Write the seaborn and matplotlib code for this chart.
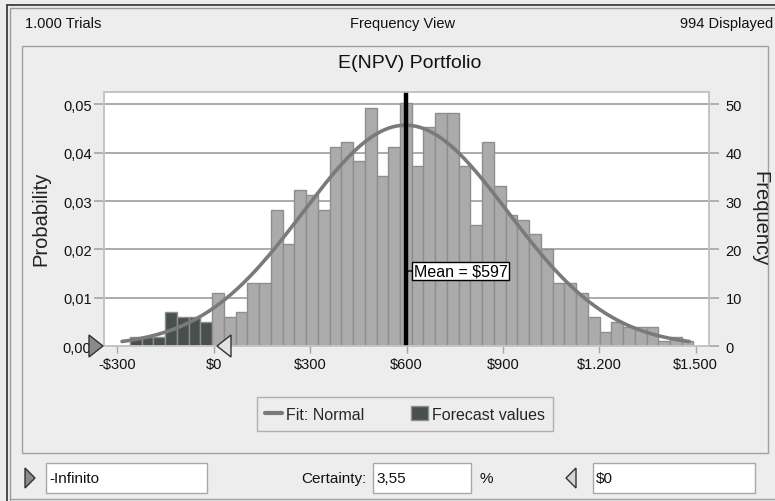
import numpy as np
import pandas as pd
import matplotlib
matplotlib.use("Agg")
import matplotlib.pyplot as plt
from matplotlib.patches import Rectangle, Polygon
from matplotlib.lines import Line2D
import seaborn as sns

# ---------------- data ----------------
bin_first_edge = -260.5
bin_last_edge = 1493.0
counts_below_zero = [2, 2, 2, 7, 6, 6, 5]
counts_rest = [11, 6, 7, 13, 13, 28, 21, 32, 31, 28, 41, 42, 38, 49, 35, 41, 50,
               37, 45, 48, 48, 37, 25, 42, 33, 27, 26, 23, 20, 13, 13, 11, 6, 3,
               5, 4, 4, 4, 1, 2, 1]
n_displayed = 994
fit_mean = 597
fit_std = 319
x_ticks = [-300, 0, 300, 600, 900, 1200, 1500]
x_tick_labels = ["-$300", "$0", "$300", "$600", "$900", "$1.200", "$1.500"]
y_ticks = [0.0, 0.01, 0.02, 0.03, 0.04, 0.05]
y_tick_labels = ["0,00", "0,01", "0,02", "0,03", "0,04", "0,05"]
freq_ticks = [0, 10, 20, 30, 40, 50]
title = "E(NPV) Portfolio"
header_left = "1.000 Trials"
header_mid = "Frequency View"
header_right = "994 Displayed"
mean_label = "Mean = $597"
certainty_value = "3,55"
lower_value = "-Infinito"
upper_value = "$0"

# ---------------- style ----------------
sns.set_theme(style="white")
plt.rcParams['font.family'] = ['Liberation Sans', 'DejaVu Sans']

BG = '#EDEDED'
DARK = '#48504F'
GREY = '#ABABAB'
EDGE = '#8E8E8E'
TXT = '#111111'
W, H = 775, 502

def fx(x):
    return x / W

def fy(y):
    return 1 - y / H

fig = plt.figure(figsize=(W / 100, H / 100), dpi=100)
fig.patch.set_facecolor(BG)

# outer frame & panel
fig.add_artist(Line2D([fx(7), fx(7)], [fy(6), 0], color='#303030', lw=1.2))
fig.add_artist(Line2D([fx(10), fx(10)], [fy(9), 0], color='#9A9A9A', lw=1.0))
fig.add_artist(Line2D([fx(7), 1], [fy(6), fy(6)], color='#303030', lw=1.2))
fig.add_artist(Line2D([fx(10), 1], [fy(9), fy(9)], color='#9A9A9A', lw=1.0))
fig.add_artist(Line2D([fx(10), 1], [fy(500), fy(500)], color='#A0A0A0', lw=1.0))
fig.add_artist(Rectangle((fx(22), fy(454)), fx(768) - fx(22), fy(47) - fy(454),
                         transform=fig.transFigure, facecolor=BG,
                         edgecolor='#A0A0A0', lw=1.0, zorder=0))

# header
hdr_kw = dict(fontsize=10.5, va='center', color=TXT)
fig.text(fx(25), fy(24), header_left, ha='left', **hdr_kw)
fig.text(fx(403), fy(24), header_mid, ha='center', **hdr_kw)
fig.text(fx(773), fy(24), header_right, ha='right', **hdr_kw)
fig.text(fx(410), fy(63), title, ha='center', va='center', fontsize=14,
         color=TXT)

# ---------------- main axes ----------------
ax = fig.add_axes([fx(104), fy(347.3), fx(709) - fx(104), fy(92.7) - fy(347.3)])
ax.set_facecolor('white')

counts = counts_below_zero + counts_rest
edges = np.linspace(bin_first_edge, bin_last_edge, len(counts) + 1)
width = edges[1] - edges[0]
centers = edges[:-1] + width / 2
probs = np.array(counts) / n_displayed
nb = len(counts_below_zero)

df_dark = pd.DataFrame({'value': centers[:nb], 'p': probs[:nb]})
df_grey = pd.DataFrame({'value': centers[nb:], 'p': probs[nb:]})

sns.histplot(data=df_dark, x='value', weights='p', bins=list(edges[:nb + 1]), ax=ax,
             color=DARK, edgecolor=EDGE, linewidth=1.0, alpha=1, zorder=2)
sns.histplot(data=df_grey, x='value', weights='p', bins=list(edges[nb:]), ax=ax,
             color=GREY, edgecolor=EDGE, linewidth=1.0, alpha=1, zorder=2)

xs = np.linspace(-285, 1480, 300)
ys = width * np.exp(-0.5 * ((xs - fit_mean) / fit_std) ** 2) / (fit_std * np.sqrt(2 * np.pi))
sns.lineplot(x=xs, y=ys, ax=ax, color='#7A7A7A', lw=2.6, zorder=3)

ax.axvline(fit_mean, color='black', lw=3.2, zorder=4)

ax.set_xlim(-341.3, 1541.3)
ax.set_ylim(0, 0.0526)
ax.set_xticks(x_ticks)
ax.set_xticklabels(x_tick_labels)
ax.set_yticks(y_ticks)
ax.set_yticklabels(y_tick_labels)
ax.set_xlabel('')
ax.set_ylabel('')
ax.grid(axis='y', color='#A5A5A5', lw=1.3)
ax.grid(axis='x', visible=False)
ax.set_axisbelow(True)
for s in ax.spines.values():
    s.set_color('#C4C4C4')
    s.set_linewidth(1.2)
ax.tick_params(axis='y', direction='out', length=7, width=1.2, color='#A5A5A5',
               labelsize=10.5, pad=2, labelcolor=TXT, left=True)
ax.tick_params(axis='x', direction='out', length=5, width=1.0, color='#A5A5A5',
               labelsize=10.5, pad=3, labelcolor=TXT, bottom=True)

# mean label
ax.annotate(mean_label, xy=(fit_mean, 0.01556), xytext=(6, 0),
            textcoords='offset points', ha='left', va='center', fontsize=11.5,
            color='black',
            bbox=dict(boxstyle='square,pad=0.1', fc='white', ec='black', lw=1.0),
            arrowprops=dict(arrowstyle='-', color='black', lw=1.0,
                            shrinkA=0, shrinkB=0), zorder=6)

# right axis
ax2 = ax.twinx()
ax2.set_ylim(0, 52.6)
ax2.set_yticks(freq_ticks)
ax2.set_yticklabels([str(v) for v in freq_ticks])
ax2.grid(False)
for s in ax2.spines.values():
    s.set_color('#C4C4C4')
    s.set_linewidth(1.2)
ax2.tick_params(axis='y', direction='out', length=7, width=1.2, color='#A5A5A5',
                labelsize=10.5, pad=5, labelcolor=TXT, right=True)

fig.text(fx(41), fy(219), 'Probability', rotation=90, ha='center', va='center',
         fontsize=14.5, color='#222222')
fig.text(fx(760), fy(219), 'Frequency', rotation=270, ha='center', va='center',
         fontsize=14.5, color='#222222')

# certainty grabbers
fig.add_artist(Polygon([[fx(89), fy(336)], [fx(103), fy(347)], [fx(89), fy(358)]],
                       closed=True, transform=fig.transFigure, fc='#8A8A8A',
                       ec='#333333', lw=1.0, zorder=10))
fig.add_artist(Polygon([[fx(231), fy(336)], [fx(217), fy(347)], [fx(231), fy(358)]],
                       closed=True, transform=fig.transFigure, fc='#E2E2E2',
                       ec='#333333', lw=1.0, zorder=10))

# legend
handles = [Line2D([0], [0], color='#7A7A7A', lw=3),
           Rectangle((0, 0), 1, 1, fc=DARK, ec=EDGE)]
leg = fig.legend(handles, ['Fit: Normal', 'Forecast values'], loc='center',
                 bbox_to_anchor=(fx(405), fy(415)), ncol=2, frameon=True,
                 fancybox=False, fontsize=11.5, handlelength=1.05,
                 handleheight=1.0, handletextpad=0.25, columnspacing=2.9,
                 borderpad=0.55, borderaxespad=0)
leg.get_frame().set_facecolor(BG)
leg.get_frame().set_edgecolor('#A0A0A0')
leg.get_frame().set_linewidth(1.0)

# bottom row
def textbox(x0, x1, label):
    fig.add_artist(Rectangle((fx(x0), fy(494)), fx(x1) - fx(x0), fy(464) - fy(494),
                             transform=fig.transFigure, fc='white',
                             ec='#A8A8A8', lw=1.0))
    fig.text(fx(x0 + 3), fy(479), label, ha='left', va='center', fontsize=11,
             color=TXT)

textbox(46, 207, lower_value)
textbox(373, 471, certainty_value)
textbox(593, 755, upper_value)
fig.text(fx(367), fy(479), 'Certainty:', ha='right', va='center', fontsize=11,
         color=TXT)
fig.text(fx(479), fy(479), '%', ha='left', va='center', fontsize=11,
         color=TXT)
fig.add_artist(Polygon([[fx(25), fy(469)], [fx(35), fy(479)], [fx(25), fy(489)]],
                       closed=True, transform=fig.transFigure, fc='#8A8A8A',
                       ec='#333333', lw=1.0))
fig.add_artist(Polygon([[fx(576), fy(469)], [fx(566), fy(479)], [fx(576), fy(489)]],
                       closed=True, transform=fig.transFigure, fc='#D5D5D5',
                       ec='#333333', lw=1.0))

fig.savefig('out.png', dpi=100, facecolor=BG)
